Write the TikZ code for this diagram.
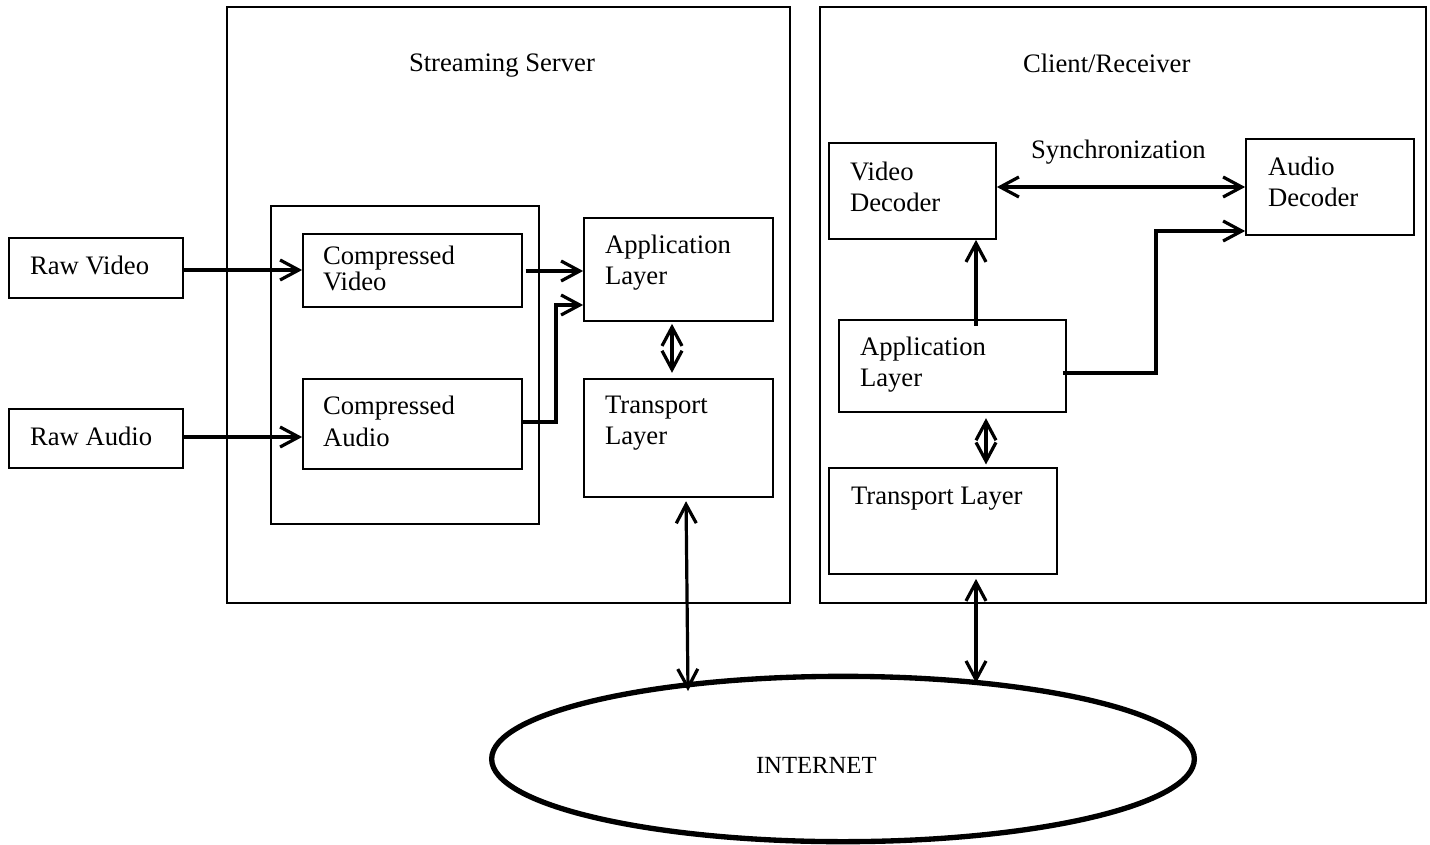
\documentclass[tikz,border=0pt]{standalone}
\usepackage{fontspec}
\setmainfont{Liberation Serif}
\usetikzlibrary{arrows.meta,shapes.geometric,fit,calc}
\begin{document}
\begin{tikzpicture}[x=0.75pt,y=-0.75pt,
  box/.style={draw, line width=1.3pt, inner sep=0pt, fit={#1}},
  txt/.style={anchor=north west, inner sep=0pt, outer sep=0pt, align=left,
    font=\fontsize{20}{23.25}\selectfont},
  conn/.style={line width=2.4pt, -{Straight Barb[length=14pt,width=15pt]}},
  dbl/.style={line width=2.4pt, {Straight Barb[length=14pt,width=15pt]}-{Straight Barb[length=14pt,width=15pt]}}
]
\useasboundingbox (0,0) rectangle (1430,845);

% outer containers
\node[box={(227,7) (790,603)}] (server) {};
\node[box={(820,7) (1426,603)}] (client) {};
\node[txt] (servertitle) at (409,54) {Streaming Server};
\node[txt] (clienttitle) at (1023,54) {Client/Receiver};

% left side
\node[box={(9,238) (183,298)}] (rv) {};
\node[txt] (rvt) at (30,256) {Raw Video};
\node[box={(9,409) (183,468)}] (ra) {};
\node[txt] (rat) at (30,427) {Raw Audio};

% encoder group
\node[box={(271,206) (539,524)}] (grp) {};
\node[box={(303,234) (522,307)}] (cv) {};
\node[txt, font=\fontsize{20}{19.5}\selectfont] (cvt) at (323,246) {Compressed\\Video};
\node[box={(303,379) (522,469)}] (ca) {};
\node[txt, font=\fontsize{20}{24}\selectfont] (cat) at (323,396) {Compressed\\Audio};

% server layers
\node[box={(584,218) (773,321)}] (sapp) {};
\node[txt] (sappt) at (605,235) {Application\\Layer};
\node[box={(584,379) (773,497)}] (stl) {};
\node[txt] (stlt) at (605,396) {Transport\\Layer};

% client
\node[box={(829,143) (996,239)}] (vd) {};
\node[txt] (vdt) at (850,162) {Video\\Decoder};
\node[box={(1246,139) (1414,235)}] (ad) {};
\node[txt] (adt) at (1268,157) {Audio\\Decoder};
\node[txt] (sync) at (1031,140) {Synchronization};
\node[box={(839,320) (1066,412)}] (capp) {};
\node[txt] (cappt) at (860,337) {Application\\Layer};
\node[box={(829,468) (1057,574)}] (ctl) {};
\node[txt] (ctlt) at (851,487) {Transport Layer};

% internet
\node[ellipse, draw, line width=4pt, inner sep=0pt, minimum width=527pt, minimum height=124pt] (inet) at (843,759) {};
\node[txt, font=\fontsize{18.5}{22}\selectfont] (inett) at (756,757) {INTERNET};

% helper coordinates
\coordinate (k1) at (556,305);
\coordinate (k2) at (1156,231);
\coordinate (cx1) at (976,0);
\coordinate (cx2) at (986,0);
\coordinate (sx1) at (672,0);
\coordinate (sx2) at (686,0);
\coordinate (i1) at (688,691);
\coordinate (i2) at (976,683);

% connectors
\draw[conn] (rv.east |- 0,270) -- (cv.west |- 0,270);
\draw[conn] (ra.east |- 0,437) -- (ca.west |- 0,437);
\draw[conn] ([xshift=2pt]cv.east |- 0,271) -- (sapp.west |- 0,271);
\draw[conn] (ca.east |- 0,422) -| (k1) -- (k1 -| sapp.west);
\draw[dbl, shorten <=1.5pt, shorten >=4pt] (sapp.south -| sx1) -- (stl.north -| sx1);
\draw[dbl, shorten <=2.5pt] (stl.south -| sx2) -- (i1);

\draw[dbl] (ad.west -| vd.east) -- (ad.west);
\draw[conn, shorten <=-5pt] (capp.north -| cx1) -- (vd.south -| cx1);
\draw[conn] (capp.east |- 0,373) ++(-4,0) -| (k2) -- (k2 -| ad.west);
\draw[dbl, shorten <=4pt, shorten >=2pt] (capp.south -| cx2) -- (ctl.north -| cx2);
\draw[dbl, shorten <=3pt] (ctl.south -| cx1) -- (i2);
\end{tikzpicture}
\end{document}
